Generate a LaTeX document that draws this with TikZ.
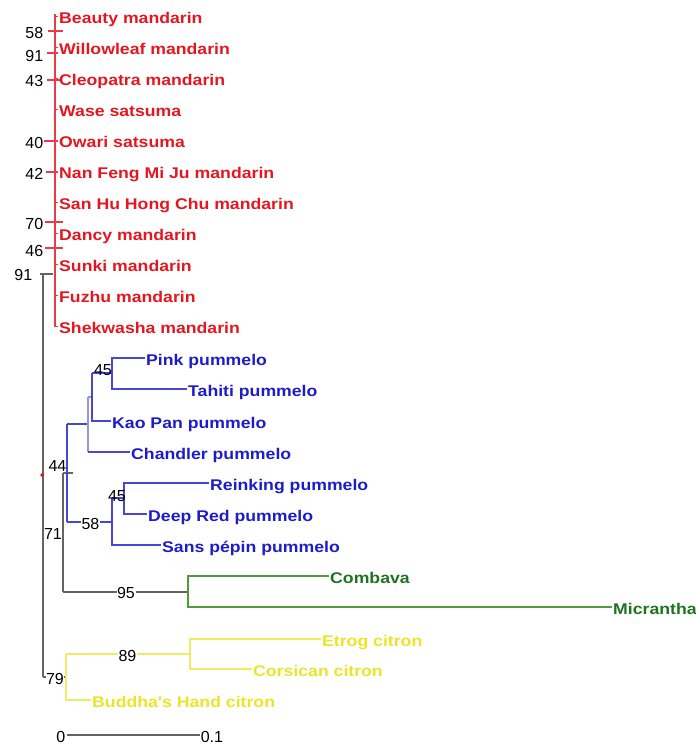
\documentclass[tikz,border=0pt]{standalone}
\usepackage{fontspec}
\newfontfamily\labfont[FakeStretch=1.14]{Liberation Sans}
\newfontfamily\numfont{Liberation Sans}
\definecolor{redT}{RGB}{228,22,32}
\definecolor{redL}{RGB}{234,60,72}
\definecolor{blueT}{RGB}{28,28,200}
\definecolor{blueL}{RGB}{70,70,215}
\definecolor{blueP}{RGB}{150,150,215}
\definecolor{greenT}{RGB}{30,115,30}
\definecolor{greenL}{RGB}{80,155,60}
\definecolor{yellowT}{RGB}{236,228,40}
\definecolor{yellowL}{RGB}{240,234,100}
\definecolor{grayL}{RGB}{100,100,100}
\tikzset{
  lab/.style={anchor=base west, inner sep=0pt, xshift=1.5pt, yshift=-7pt,
    font=\labfont\bfseries\fontsize{15.5}{18}\selectfont},
  bs/.style={inner sep=0.6pt, fill=white, font=\numfont\fontsize{16}{18}\selectfont},
  br/.style={line width=1.1pt},
}
\begin{document}
\begin{tikzpicture}[x=1pt,y=-1pt]
\useasboundingbox (0,0) rectangle (696,747);
% ---------------- red (mandarins) ----------------
\coordinate (rtop) at (55,14);
\coordinate (rbot) at (55,326.5);
\draw[br,redL] (rtop) -- (rbot);
\foreach \n/\y/\t in {r1/16.5/Beauty mandarin, r2/47.5/Willowleaf mandarin,
  r3/78.5/Cleopatra mandarin, r4/109.5/Wase satsuma, r5/140.5/Owari satsuma,
  r6/171.5/Nan Feng Mi Ju mandarin, r7/202.5/San Hu Hong Chu mandarin,
  r8/233.5/Dancy mandarin, r9/264.5/Sunki mandarin, r10/295.5/Fuzhu mandarin,
  r11/326.5/Shekwasha mandarin}{
  \coordinate (\n) at (57.5,\y);
  \coordinate (\n s) at (55,\y);
  \draw[br,redL] (\n s) -- (\n);
  \node[lab,text=redT] (\n lab) at (\n) {\t};
}
% red internal ticks with support values
\foreach \n/\y/\a/\b/\v/\vy in {k1/31/48/63/58/33, k2/53/47/58/91/56, k3/80/47/60/43/81,
  k4/141/44/58/40/143, k5/172/46/58/42/173.5, k6/222/45/63/70/224, k7/248/45/63/46/251}{
  \coordinate (\n a) at (\a,\y);
  \coordinate (\n b) at (\b,\y);
  \draw[br,redL] (\n a) -- (\n b);
  \node[bs,anchor=east,fill=none] (\n v) at (44,\vy) {\v};
}
% ---------------- root ----------------
\coordinate (rootTopL) at (40,274);
\coordinate (rootTopR) at (53,274);
\coordinate (rootTop) at (43,274);
\coordinate (root) at (43,475);
\coordinate (rootBot) at (43,677);
\draw[br,grayL] (rootTopL) -- (rootTopR);
\draw[br,grayL] (rootTop) -- (rootBot);
\node[bs,anchor=east,fill=none] (v91) at (33,275) {91};
\fill[red] (root) ++(-1,0) circle (1.8pt);
% pummelo + papeda clade
\coordinate (nA) at (63,532);
\coordinate (nAtop) at (63,473);
\coordinate (nAbot) at (63,592);
\draw[br,grayL] (root |- nA) -- (nA);
\draw[br,grayL] (nAtop) -- (nAbot);
\node[bs] (v71) at (53,534) {71};
\node[bs,fill=none] (v44) at (57.5,466) {44};
% ---------------- blue (pummelos) ----------------
\coordinate (nB) at (67,473);
\coordinate (nBtop) at (67,424);
\coordinate (nBbot) at (67,522);
\coordinate (nBstub) at (73,473);
\draw[br,grayL] (nAtop) -- (nBstub);
\draw[br,blueL] (nBtop) -- (nBbot);
% upper pummelo group
\coordinate (nC) at (88,424);
\coordinate (nD) at (92,397);
\coordinate (nE) at (112,373);
\coordinate (tPink) at (144.5,358);
\coordinate (tTahiti) at (186.5,389);
\coordinate (tKao) at (110.5,421);
\coordinate (tChandler) at (129.5,452);
\draw[br,blueL] (nBtop) -- (nC);
\draw[br,blueP] (nC |- nD) -- (nC |- tChandler);
\draw[br,blueL] (nC |- tChandler) -- (tChandler);
\draw[br,blueP] (nC |- nD) -- (nD);
\draw[br,blueL] (nD |- nE) -- (nD |- tKao) -- (tKao);
\draw[br,blueL] (nD |- nE) -- (nE);
\draw[br,blueL] (tPink) -| (nE |- tTahiti) -- (tTahiti);
\node[bs,fill=none] (v45a) at (103,370) {45};
\node[lab,text=blueT] (lPink) at (tPink) {Pink pummelo};
\node[lab,text=blueT] (lTahiti) at (tTahiti) {Tahiti pummelo};
\node[lab,text=blueT] (lKao) at (tKao) {Kao Pan pummelo};
\node[lab,text=blueT] (lChandler) at (tChandler) {Chandler pummelo};
% lower pummelo group
\coordinate (nF) at (112,522);
\coordinate (nG) at (124,498);
\coordinate (tReinking) at (208.5,483);
\coordinate (tDeep) at (146.5,514);
\coordinate (tSans) at (160.5,545);
\draw[br,blueL] (nBbot) -- (nF);
\draw[br,blueL] (nF |- nG) -- (nF |- tSans) -- (tSans);
\draw[br,blueL] (nF |- nG) -- (nG);
\draw[br,blueL] (tReinking) -| (nG |- tDeep) -- (tDeep);
\node[bs] (v58) at (90.5,523.5) {58};
\node[bs,fill=none] (v45b) at (117,496) {45};
\node[lab,text=blueT] (lReinking) at (tReinking) {Reinking pummelo};
\node[lab,text=blueT] (lDeep) at (tDeep) {Deep Red pummelo};
\node[lab,text=blueT] (lSans) at (tSans) {Sans pépin pummelo};
% ---------------- green (papedas) ----------------
\coordinate (nH) at (188,592);
\coordinate (tCombava) at (328.5,576);
\coordinate (tMicrantha) at (611.5,607);
\draw[br,grayL] (nAbot) -- (nH);
\draw[br,greenL] (tCombava) -| (nH |- tMicrantha) -- (tMicrantha);
\node[bs] (v95) at (126,593) {95};
\node[lab,text=greenT] (lCombava) at (tCombava) {Combava};
\node[lab,text=greenT] (lMicrantha) at (tMicrantha) {Micrantha};
% ---------------- yellow (citrons) ----------------
\coordinate (nI) at (66,677);
\coordinate (nJ) at (190,654);
\coordinate (tEtrog) at (320.5,639);
\coordinate (tCorsican) at (251.5,669);
\coordinate (tBuddha) at (90.5,700);
\draw[br,grayL] (rootBot) -- (nI);
\draw[br,yellowL] (nI |- nJ) -- (nI |- tBuddha) -- (tBuddha);
\draw[br,yellowL] (nI |- nJ) -- (nJ);
\draw[br,yellowL] (tEtrog) -| (nJ |- tCorsican) -- (tCorsican);
\node[bs] (v89) at (127.5,655.5) {89};
\node[bs] (v79) at (55,678.5) {79};
\node[lab,text=yellowT] (lEtrog) at (tEtrog) {Etrog citron};
\node[lab,text=yellowT] (lCorsican) at (tCorsican) {Corsican citron};
\node[lab,text=yellowT] (lBuddha) at (tBuddha) {Buddha's Hand citron};
% ---------------- scale bar ----------------
\coordinate (s0) at (67,735);
\coordinate (s1) at (200,735);
\draw[br,grayL] (s0) -- (s1);
\node[bs,anchor=east,fill=none] (l0) at (66,737) {0};
\node[bs,anchor=west,fill=none] (l1) at (200,737) {0.1};
\end{tikzpicture}
\end{document}
